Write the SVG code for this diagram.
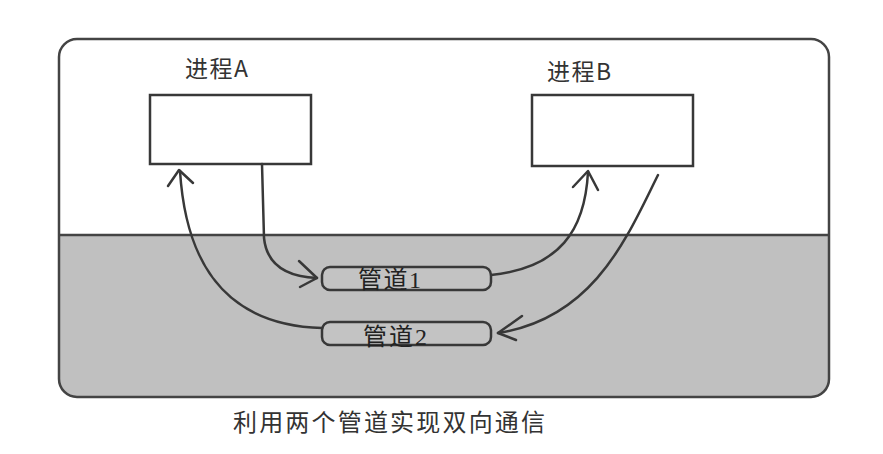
<svg xmlns="http://www.w3.org/2000/svg" width="883" height="454" viewBox="0 0 883 454">
<style>
.ln{fill:none;stroke:#383838;stroke-width:2.5;stroke-linecap:round;stroke-linejoin:round}
.box{fill:#fff;stroke:#383838;stroke-width:2.5}
.pipe{fill:#c3c3c3;stroke:#383838;stroke-width:2.5}
.lbl{font-family:"Noto Sans CJK SC","Liberation Sans",sans-serif;font-size:23px;fill:#333;letter-spacing:1.5px}
.cap{font-family:"Noto Sans CJK SC","Liberation Sans",sans-serif;font-size:24px;fill:#333}
.plbl{font-family:"Liberation Serif","Noto Sans CJK SC",serif;font-size:24px;fill:#222}
</style>
<rect width="883" height="454" fill="#fff"/>
<g id="frame">
<path d="M59 235 H829 V379 Q829 397 811 397 H77 Q59 397 59 379 Z" fill="#c0c0c0"/>
<rect x="59" y="39" width="770" height="358" rx="18" fill="none" stroke="#444" stroke-width="2.5"/>
<line x1="59" y1="235" x2="829" y2="235" stroke="#444" stroke-width="2.5"/>
</g>
<g id="procA">
<rect class="box" x="150" y="95" width="161" height="69"/>
<text class="lbl" x="185" y="77">进程A</text>
</g>
<g id="procB">
<rect class="box" x="532" y="95" width="161" height="71"/>
<text class="lbl" x="547" y="80">进程B</text>
</g>
<g id="pipe1">
<rect class="pipe" x="322" y="267" width="169" height="23" rx="8"/>
<text class="plbl" x="358" y="288" textLength="63" lengthAdjust="spacing">管道1</text>
</g>
<g id="pipe2">
<rect class="pipe" x="322" y="322" width="169" height="23" rx="8"/>
<text class="plbl" x="363" y="345" textLength="64" lengthAdjust="spacing">管道2</text>
</g>
<g id="connectors">
<path class="ln" d="M262 164 L264 238 Q268 276 317 278"/>
<path class="ln" d="M299 261 L317 278 L300 287"/>
<path class="ln" d="M322 328 C215 325 185 250 180 171"/>
<path class="ln" d="M168 186 L179 170 L193 183"/>
<path class="ln" d="M491 275 C560 268 585 230 588 172"/>
<path class="ln" d="M573 187 L588 171 L598 190"/>
<path class="ln" d="M658 175 C628 235 595 318 498 333"/>
<path class="ln" d="M522 316 L498 333 L516 340"/>
</g>
<g id="caption">
<text class="cap" x="233" y="431" textLength="312" lengthAdjust="spacing">利用两个管道实现双向通信</text>
</g>
</svg>
